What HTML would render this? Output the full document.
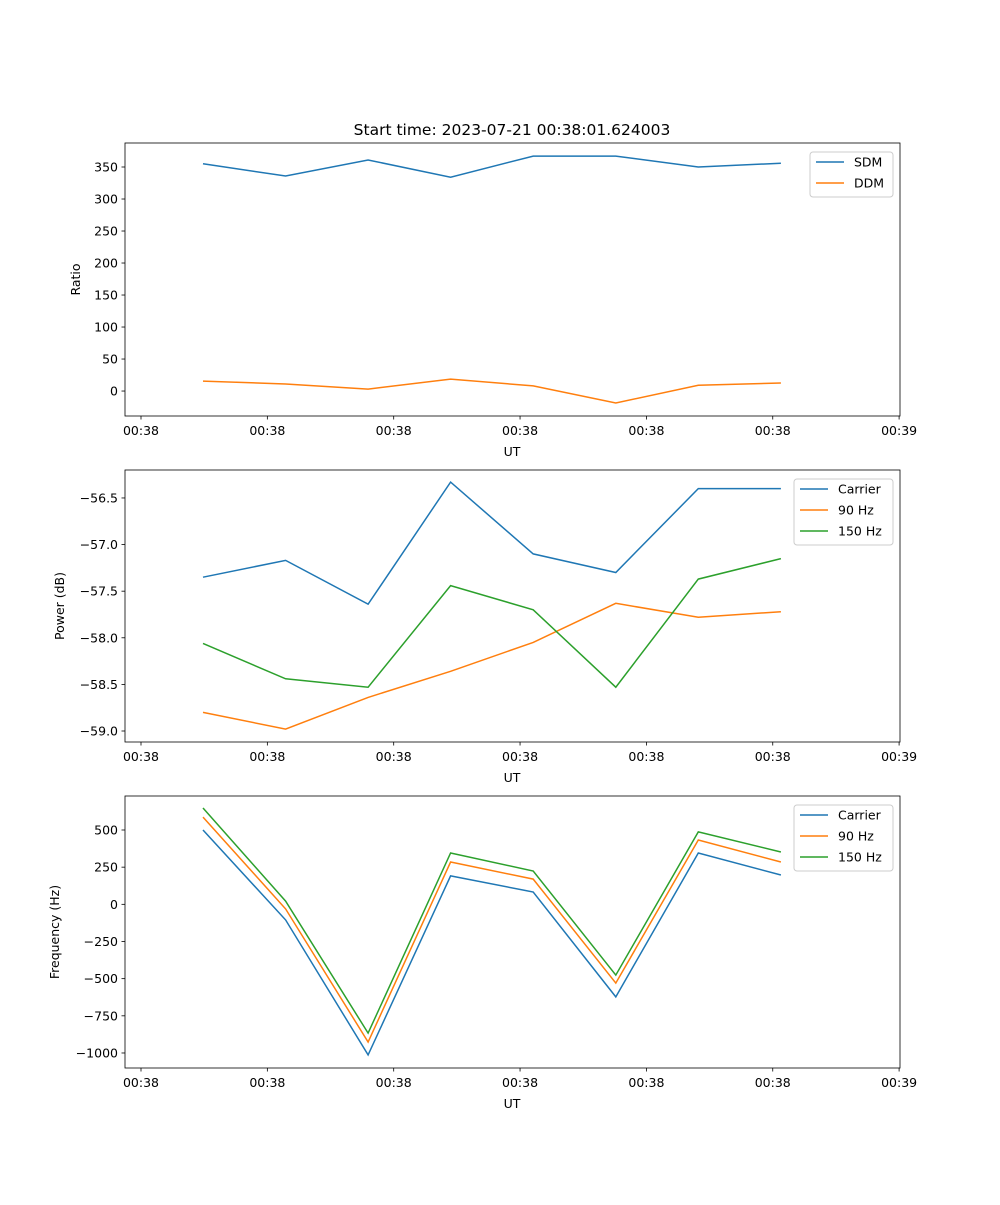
<!DOCTYPE html>
<html><head><meta charset="utf-8"><style>
body{margin:0;background:#fff}
svg text{font-family:"DejaVu Sans","Liberation Sans",sans-serif;font-size:12.5px;fill:#000}
</style></head><body>
<svg id="fig" width="1000" height="1200" xmlns="http://www.w3.org/2000/svg">
<text x="512" y="135" text-anchor="middle" style="font-size:15.5px">Start time: 2023-07-21 00:38:01.624003</text>
</svg>
<script>
const xTickLabels=["00:38","00:38","00:38","00:38","00:38","00:38","00:39"];
const pointIndex=[0,1,2,3,4,5,6,7];
const sdm=[355,336,361,334,367,367,350,356];
const ddm=[15.6,11,3,18.7,8,-18.7,9,12.5];
const pCarrier=[-57.35,-57.17,-57.64,-56.33,-57.10,-57.30,-56.40,-56.40];
const p90=[-58.80,-58.98,-58.64,-58.36,-58.05,-57.63,-57.78,-57.72];
const p150=[-58.06,-58.44,-58.53,-57.44,-57.70,-58.53,-57.37,-57.15];
const fCarrier=[500,-105,-1013,191,83,-623,345,197];
const f90=[587,-31,-926,285,170,-530,433,285];
const f150=[648,22,-866,345,224,-476,487,352];
const ratioTicks=[0,50,100,150,200,250,300,350];
const powerTicks=[-59.0,-58.5,-58.0,-57.5,-57.0,-56.5];
const freqTicks=[-1000,-750,-500,-250,0,250,500];

const NS="http://www.w3.org/2000/svg";
const svg=document.getElementById('fig');
function mk(t,a,parent){const e=document.createElementNS(NS,t);for(const k in a)e.setAttribute(k,a[k]);(parent||svg).appendChild(e);return e;}
const L=125,R=900;
const xTick=i=>141+i*126.35;
const xData=j=>203+j*82.55;
const C={blue:"#1f77b4",orange:"#ff7f0e",green:"#2ca02c"};
function panel(o){
  const y=v=>o.top+(o.vmax-v)/(o.vmax-o.vmin)*(o.bot-o.top);
  const g=mk('g',{});
  
  
  o.series.forEach(s=>{
    const pts=s.vals.map((v,j)=>xData(pointIndex[j]).toFixed(1)+','+y(v).toFixed(1)).join(' ');
    const pl=mk('polyline',{points:pts,fill:'none',stroke:s.color,'stroke-width':1.5},g);
    
    
  });
  const fr=mk('rect',{x:L,y:o.top,width:R-L,height:o.bot-o.top,fill:'none',stroke:'#000','stroke-width':0.8},g);
  
  
  xTickLabels.forEach((t,i)=>{
    const x=xTick(i);
    mk('line',{x1:x,x2:x,y1:o.bot,y2:o.bot+3.5,stroke:'#000','stroke-width':0.8},g);
    const tx=mk('text',{x:x,y:o.bot+19,'text-anchor':'middle'},g);tx.textContent=t;
    
    
  });
  const xl=mk('text',{x:512,y:o.bot+40,'text-anchor':'middle'},g);xl.textContent='UT';
  
  
  o.ticks.forEach(t=>{
    const yy=y(t);
    mk('line',{x1:L-3.5,x2:L,y1:yy,y2:yy,stroke:'#000','stroke-width':0.8},g);
    const tx=mk('text',{x:L-7,y:yy+4.5,'text-anchor':'end'},g);
    tx.textContent=(o.fmt?o.fmt(t):String(t)).replace('-','\u2212');
    
    
  });
  const yl=mk('text',{x:o.ylx,y:(o.top+o.bot)/2,'text-anchor':'middle',transform:`rotate(-90 ${o.ylx} ${(o.top+o.bot)/2})`},g);
  yl.textContent=o.ylabel;
  
  
  const lg=mk('g',{},g);
  
  
  const h=3+o.series.length*21;
  mk('rect',{x:o.lx,y:o.top+9,width:R-7-o.lx,height:h,fill:'#fff',stroke:'#ccc',rx:3},lg);
  o.series.forEach((s,k)=>{
    const yy=o.top+9+10+k*21;
    mk('line',{x1:o.lx+6,x2:o.lx+34,y1:yy,y2:yy,stroke:s.color,'stroke-width':1.5},lg);
    const tx=mk('text',{x:o.lx+44,y:yy+4.5},lg);tx.textContent=s.label;
    
    
  });
}
panel({name:'ratio-panel',top:143,bot:416,vmin:-39,vmax:387.5,ticks:ratioTicks,ylabel:'Ratio',ylx:80,lx:810,
  series:[{id:'sdm',label:'SDM',vals:sdm,color:C.blue},{id:'ddm',label:'DDM',vals:ddm,color:C.orange}]});
panel({name:'power-panel',top:470,bot:742,vmin:-59.118,vmax:-56.2,ticks:powerTicks,ylabel:'Power (dB)',ylx:64,lx:794,fmt:v=>v.toFixed(1),
  series:[{id:'power-carrier',label:'Carrier',vals:pCarrier,color:C.blue},{id:'power-90hz',label:'90 Hz',vals:p90,color:C.orange},{id:'power-150hz',label:'150 Hz',vals:p150,color:C.green}]});
panel({name:'frequency-panel',top:796,bot:1068,vmin:-1101,vmax:728.7,ticks:freqTicks,ylabel:'Frequency (Hz)',ylx:59,lx:794,
  series:[{id:'freq-carrier',label:'Carrier',vals:fCarrier,color:C.blue},{id:'freq-90hz',label:'90 Hz',vals:f90,color:C.orange},{id:'freq-150hz',label:'150 Hz',vals:f150,color:C.green}]});
</script>
</body></html>
